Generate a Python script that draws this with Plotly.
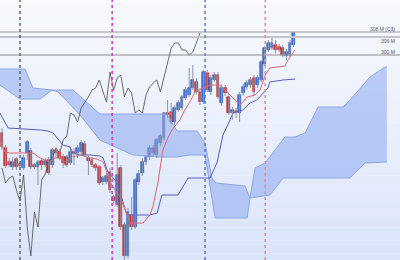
import plotly.graph_objects as go
import numpy as np

# ---- candle data (period index 0..81), level units ----
opens  = [127,112,98,93,101,96,92,107,109,95,93,99,95,100,95,110,108,103,103,97,108,107,108,116,102,100,95,93,78,78,
          88,63,55,92,35,4,45,33,78,87,98,103,112,105,117,122,147,148,138,150,152,162,165,172,178,168,158,187,168,180,
          185,157,172,163,147,149,147,167,173,175,182,175,180,196,210,212,215,213,212,204,205,215]
closes = [113,94,95,98,93,94,102,118,93,93,98,95,99,87,110,107,102,97,95,108,106,112,117,105,99,95,92,77,82,84,
          70,59,85,33,4,48,33,80,86,98,103,112,107,120,124,147,145,138,152,157,163,170,172,180,168,158,188,170,182,185,
          163,172,167,147,150,147,165,173,177,180,168,182,198,212,217,217,210,210,205,208,217,227]
highs  = [132,115,102,103,103,98,105,120,112,97,100,102,102,103,112,113,111,106,105,111,112,115,120,119,105,103,97,95,84,87,
          92,65,107,95,38,52,63,82,90,102,105,115,115,122,126,148,160,157,155,160,165,173,192,195,182,172,190,190,185,188,
          188,175,175,166,153,152,168,176,180,183,185,185,200,214,220,223,220,216,215,211,220,228]
lows   = [110,92,93,90,90,92,90,100,91,91,75,90,93,85,92,102,100,92,93,95,95,102,105,103,85,93,89,75,75,76,
          67,57,53,30,0,2,30,31,75,84,95,100,104,102,114,120,142,136,135,148,150,160,163,170,166,155,156,168,165,178,
          161,154,164,145,140,142,138,164,170,172,165,172,178,194,208,210,207,208,203,200,203,213]

# Tenkan (red) and Kijun (purple) lines: (period, level)
tenkan_x = [-0.6,0.8,2.2,5,8.6,10.6,13.3,14.7,16.1,17.5,19.4,21.7,24.4,26.4,28.1,29.2,30,31.4,32.8,35.6,39.2,41.1,41.9,43.3,
            44.7,45.8,47.2,49.4,50.8,52.2,53.6,55.8,57.8,60.6,63.3,66.1,68.1,70.3,71.7,73.1,74.4,78.6,79.4,81.4]
tenkan_y = [120,108,107,107,107,102,98,102,102,98,103,105,102,101,98,87,78,70,63,37,37,45,53,77,
            110,120,130,140,150,158,168,172,175,175,165,155,163,165,170,185,192,194,200,210]
kijun_x = [-0.6,1.7,10.6,12.8,14.2,16.9,18.9,19.7,21.7,24.4,27.2,28.1,29.4,30.8,31.9,34.7,41.1,43.1,44.4,48.9,
           51.7,57.8,59.7,61.4,63.3,64.2,66.9,68.9,70.8,72.5,73.9,74.4,78.1,81.4]
kijun_y = [147,132,130,129,127,115,113,107,105,105,104,102,88,82,78,45,45,47,65,65,
           82,82,97,125,140,147,150,157,160,167,172,178,180,181]

# Cloud boundaries
cloud_top_x = [-0.6,6.4,8.6,13.9,19.7,27.2,45.8,48.6,54.2,56.4,58.3,59.4,67.5,68.9,70.3,73.1,78.6,81.4,84.2,86.1,87.8,
               94.7,96.7,102.2,106.4,106.9]
cloud_top_y = [191,191,172,170,170,146,146,129,129,117,82,77,74,62,92,97,123,123,127,140,153,153,160,183,193,193]
cloud_bot_x = [-0.6,5,10.6,13.9,15.6,21.7,27.2,36.4,43.9,48.6,52.2,56.4,59.2,68.1,68.9,74.4,78.1,96.7,100.8,106.9]
cloud_bot_y = [175,161,161,170,168,145,120,105,103,103,105,105,42,42,62,65,82,82,97,98]

# Levels and labels
levels = [228, 223, 205]
level_labels = ["308 M (C3)", "306 M", "300 M"]
# vertical markers (period)
vlines = [5.0, 30.6, 56.4, 73.1]
vcolors = ["#666666", "#c040c0", "#5a78d8", "#d890a8"]

n = len(opens)
idx = np.arange(n)
lag = 26
chikou_x = idx[:n - lag]
chikou_y = closes[lag:]

fig = go.Figure()

# background gradient
shapes = []
nb = 40
c0 = np.array([248, 250, 254]); c1 = np.array([219, 229, 250])
for k in range(nb):
    c = c0 + (c1 - c0) * k / (nb - 1)
    shapes.append(dict(type="rect", xref="paper", yref="paper", x0=0, x1=1,
                       y0=1 - (k + 1) / nb, y1=1 - k / nb + 0.001, layer="below",
                       line=dict(width=0), fillcolor="rgb(%d,%d,%d)" % tuple(c)))

# cloud
fig.add_trace(go.Scatter(x=cloud_top_x, y=cloud_top_y, mode="lines",
                         line=dict(color="#8fa6e6", width=1), hoverinfo="skip"))
fig.add_trace(go.Scatter(x=cloud_bot_x, y=cloud_bot_y, mode="lines", fill="tonexty",
                         fillcolor="rgba(140,168,240,0.55)",
                         line=dict(color="#8fa6e6", width=1), hoverinfo="skip"))

for lv, col, w in zip(levels, ["#9a9a9a", "#c2c4cc", "#8c8c8c"], [1, 2, 1]):
    shapes.append(dict(type="line", xref="paper", yref="y", x0=0, x1=1, y0=lv, y1=lv,
                       line=dict(color=col, width=w)))
for xv, col in zip(vlines, vcolors):
    shapes.append(dict(type="line", xref="x", yref="paper", x0=xv, x1=xv, y0=0, y1=1,
                       line=dict(color=col, width=1.5, dash="dot")))

# chikou
fig.add_trace(go.Scatter(x=chikou_x, y=chikou_y, mode="lines",
                         line=dict(color="#4a4a4a", width=0.8), hoverinfo="skip"))
# kijun, tenkan
fig.add_trace(go.Scatter(x=kijun_x, y=kijun_y, mode="lines",
                         line=dict(color="#5a5ac0", width=1), hoverinfo="skip"))
fig.add_trace(go.Scatter(x=tenkan_x, y=tenkan_y, mode="lines",
                         line=dict(color="#e06474", width=1), hoverinfo="skip"))

# wicks
wx, wy = [], []
for i in range(n):
    wx += [i, i, None]
    wy += [lows[i], highs[i], None]
fig.add_trace(go.Scatter(x=wx, y=wy, mode="lines", line=dict(color="#8c93a8", width=1),
                         hoverinfo="skip"))
# bodies
base = [min(o, c) for o, c in zip(opens, closes)]
hgt = [max(abs(c - o), 1.2) for o, c in zip(opens, closes)]
cols = ["#3f72d6" if c > o else "#d23a3a" for o, c in zip(opens, closes)]
lcols = ["#2c55b0" if c > o else "#a82626" for o, c in zip(opens, closes)]
fig.add_trace(go.Bar(x=idx, y=hgt, base=base, width=0.8,
                     marker=dict(color=cols, line=dict(color=lcols, width=0.6))))

annotations = []
for lv, lab, dy in zip(levels, level_labels, [3, -4, 3]):
    annotations.append(dict(x=0.992, xref="paper", y=lv, yref="y", text=lab, showarrow=False,
                            xanchor="right", yanchor="middle", yshift=dy,
                            font=dict(size=5, color="#555555", family="Liberation Sans")))

fig.update_layout(width=400, height=260, margin=dict(l=0, r=0, t=0, b=0),
                  paper_bgcolor="#ffffff", plot_bgcolor="rgba(0,0,0,0)",
                  showlegend=False, shapes=shapes, annotations=annotations, bargap=0)
fig.update_xaxes(range=[-0.56, 110.56], visible=False, showgrid=False, zeroline=False)
fig.update_yaxes(range=[0, 260], visible=False, showgrid=False, zeroline=False)
fig.write_html("out.html")
